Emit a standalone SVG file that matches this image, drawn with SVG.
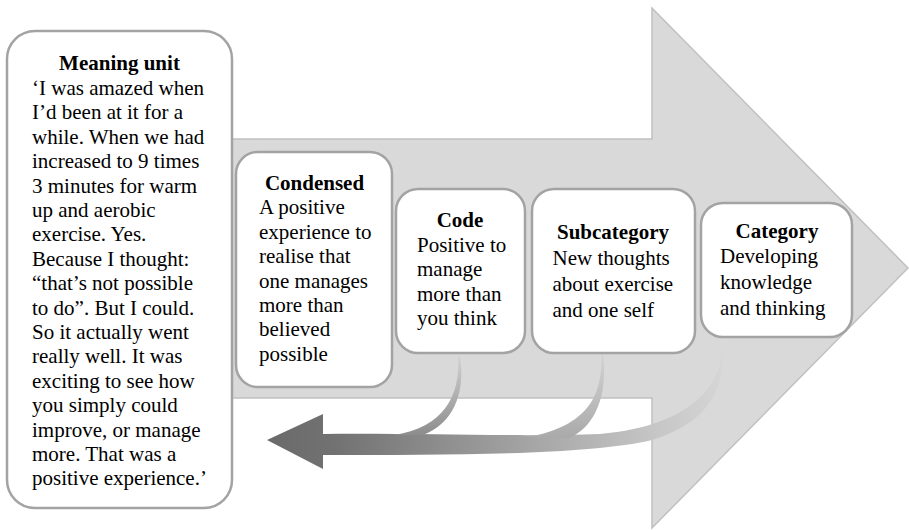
<svg xmlns="http://www.w3.org/2000/svg" width="909" height="530" viewBox="0 0 909 530">
  <style>
    .box { fill: #ffffff; stroke: #a3a3a3; stroke-width: 2.5; }
    .t { font-family: "Liberation Serif", "Times New Roman", serif; font-size: 21px; fill: #000; }
    .h { font-weight: bold; text-anchor: middle; }
  </style>
  <defs>
    <linearGradient id="shaftGrad" gradientUnits="userSpaceOnUse" x1="267" y1="0" x2="725" y2="0">
      <stop offset="0" stop-color="#6a6a6a"/>
      <stop offset="0.15" stop-color="#727272"/>
      <stop offset="0.5" stop-color="#9c9c9c"/>
      <stop offset="0.85" stop-color="#c6c6c6"/>
      <stop offset="1" stop-color="#d6d6d6"/>
    </linearGradient>
    <linearGradient id="codeGrad" gradientUnits="userSpaceOnUse" x1="0" y1="356" x2="0" y2="436">
      <stop offset="0" stop-color="#d2d2d2"/>
      <stop offset="1" stop-color="#8c8c8c"/>
    </linearGradient>
    <linearGradient id="subGrad" gradientUnits="userSpaceOnUse" x1="0" y1="352" x2="0" y2="440">
      <stop offset="0" stop-color="#d4d4d4"/>
      <stop offset="1" stop-color="#a9a9a9"/>
    </linearGradient>
  </defs>

  <g id="big-arrow">
    <path d="M 120,139 L 652,139 L 652,8 L 908,268 L 652,528 L 652,398 L 120,398 Z" fill="#d9d9d9" stroke="#c0c0c0" stroke-width="1.5"/>
  </g>

  <g id="connectors">
    <path d="M 323,434 C 420,433 520,437 600,434 C 670,428 718,400 722,352 C 725,395 702,425 652,440 C 590,455 450,455 323,455 L 323,469 L 267,440 L 323,414 Z" fill="url(#shaftGrad)"/>
    <path d="M 458,356 C 461,395 444,428 393,435 L 423,435 C 452,424 466,395 460,356 Z" fill="url(#codeGrad)"/>
    <path d="M 601,352 C 604,395 588,426 528,437 L 570,438 C 596,425 608,395 603,352 Z" fill="url(#subGrad)"/>
  </g>

  <g id="meaning-unit">
    <rect class="box" x="7" y="31" width="225" height="477" rx="28"/>
    <text class="t h" x="119.5" y="70">Meaning unit</text>
    <text class="t" x="32" y="95">‘I was amazed when</text>
    <text class="t" x="32" y="119.4">I’d been at it for a</text>
    <text class="t" x="32" y="143.8">while. When we had</text>
    <text class="t" x="32" y="168.2">increased to 9 times</text>
    <text class="t" x="32" y="192.6">3 minutes for warm</text>
    <text class="t" x="32" y="217">up and aerobic</text>
    <text class="t" x="32" y="241.4">exercise. Yes.</text>
    <text class="t" x="32" y="265.8">Because I thought:</text>
    <text class="t" x="32" y="290.2">“that’s not possible</text>
    <text class="t" x="32" y="314.6">to do”. But I could.</text>
    <text class="t" x="32" y="339">So it actually went</text>
    <text class="t" x="32" y="363.4">really well. It was</text>
    <text class="t" x="32" y="387.8">exciting to see how</text>
    <text class="t" x="32" y="412.2">you simply could</text>
    <text class="t" x="32" y="436.6">improve, or manage</text>
    <text class="t" x="32" y="461">more. That was a</text>
    <text class="t" x="32" y="485.4">positive experience.’</text>
  </g>

  <g id="condensed">
    <rect class="box" x="236" y="152" width="156" height="235" rx="22"/>
    <text class="t h" x="314.5" y="190">Condensed</text>
    <text class="t" x="259" y="214.4">A positive</text>
    <text class="t" x="259" y="238.8">experience to</text>
    <text class="t" x="259" y="263.2">realise that</text>
    <text class="t" x="259" y="287.6">one manages</text>
    <text class="t" x="259" y="312">more than</text>
    <text class="t" x="259" y="336.4">believed</text>
    <text class="t" x="259" y="360.8">possible</text>
  </g>

  <g id="code">
    <rect class="box" x="396" y="189" width="129" height="164" rx="22"/>
    <text class="t h" x="460" y="227.3">Code</text>
    <text class="t" x="417" y="251.7">Positive to</text>
    <text class="t" x="417" y="276.1">manage</text>
    <text class="t" x="417" y="300.5">more than</text>
    <text class="t" x="417" y="324.9">you think</text>
  </g>

  <g id="subcategory">
    <rect class="box" x="532" y="189" width="163" height="164" rx="22"/>
    <text class="t h" x="613" y="239.3">Subcategory</text>
    <text class="t" x="552.5" y="265.1">New thoughts</text>
    <text class="t" x="552.5" y="290.9">about exercise</text>
    <text class="t" x="552.5" y="316.7">and one self</text>
  </g>

  <g id="category">
    <rect class="box" x="701" y="203" width="151" height="134" rx="22"/>
    <text class="t h" x="777" y="237.5">Category</text>
    <text class="t" x="720" y="263.3">Developing</text>
    <text class="t" x="720" y="289.1">knowledge</text>
    <text class="t" x="720" y="314.9">and thinking</text>
  </g>
</svg>
